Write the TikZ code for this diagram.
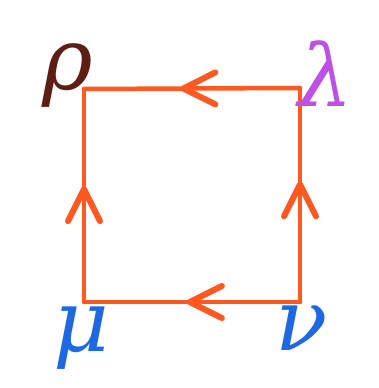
\documentclass[tikz,border=0pt]{standalone}
\usepackage{fontspec}
\newfontfamily\grkfont{DejaVu Serif}
\usetikzlibrary{decorations.markings}
\definecolor{edgeor}{RGB}{255,88,32}
\definecolor{rhoc}{RGB}{95,30,20}
\definecolor{lamc}{RGB}{190,80,230}
\definecolor{bluec}{RGB}{30,105,225}
\begin{document}
\begin{tikzpicture}[x=1pt,y=1pt,
  lbl/.style={inner sep=0pt,font=\grkfont\itshape\fontsize{86}{86}\selectfont},
  side/.style={draw=edgeor,line width=4.5pt,line cap=round,
    postaction={decorate},
    decoration={markings,mark=at position #1 with {
      \draw[edgeor,line width=6pt,line cap=round,line join=round]
        (-32pt,16pt) -- (-14pt,7pt) -- (0pt,0pt) -- (-14pt,-7pt) -- (-32pt,-16pt);}}},
  side/.default=0.5]
\useasboundingbox (0,0) rectangle (378,388);
\fill[white] (0,0) rectangle (378,388);
\coordinate (tl) at (84,299);
\coordinate (tr) at (300,300);
\coordinate (br) at (300,86);
\coordinate (bl) at (84,86);
\draw[side=0.54] (tr) -- (tl);
\draw[side=0.55] (br) -- (tr);
\draw[side=0.51] (br) -- (bl);
\draw[side=0.53] (bl) -- (tl);
\node[lbl,text=rhoc] (rho) at (68,312) {ρ};
\node[lbl,text=lamc] (lam) at (326,314) {λ};
\node[lbl,text=bluec] (mu) at (81,50) {μ};
\node[lbl,text=bluec] (nu) at (302,60) {ν};
\end{tikzpicture}
\end{document}
